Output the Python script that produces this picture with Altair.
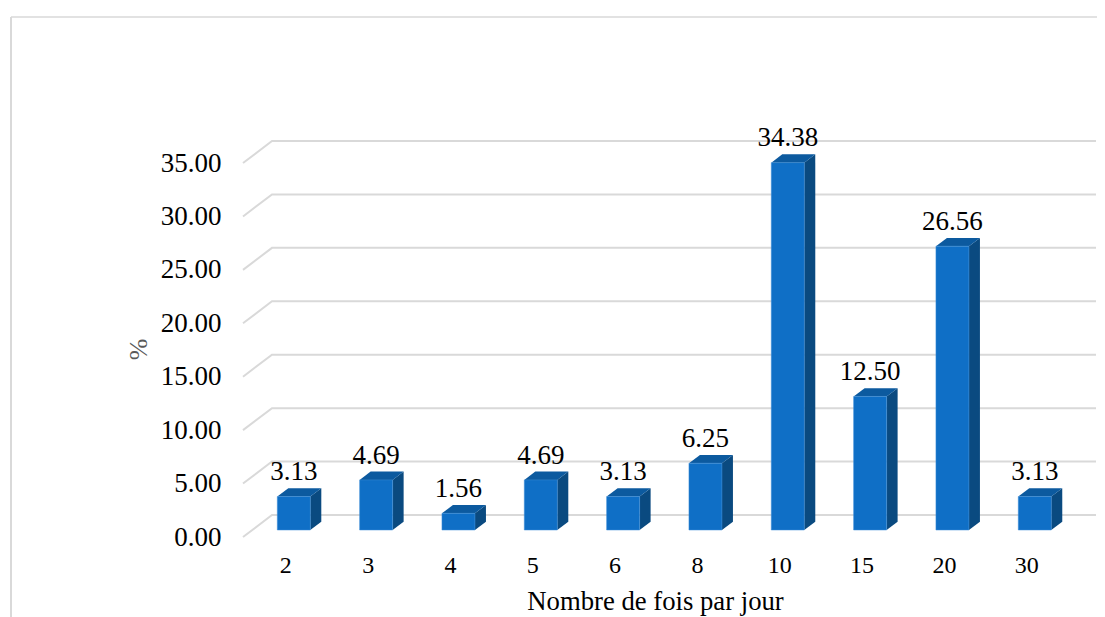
import altair as alt
import pandas as pd

categories = ["2", "3", "4", "5", "6", "8", "10", "15", "20", "30"]
values = [3.13, 4.69, 1.56, 4.69, 3.13, 6.25, 34.38, 12.50, 26.56, 3.13]
y_ticks = [0, 5, 10, 15, 20, 25, 30, 35]

FONT = "Liberation Serif"
GRID = "#d9d9d9"
FRONT = "#0f6fc6"
TOP = "#0c5a9f"
SIDE = "#0a4a80"

# geometry of the pseudo-3D projection, in scale units
PX_X = 82.33          # pixels per category step
PX_Y = 10.686         # pixels per y unit
WIDTH = 853
HEIGHT = 374
X0 = (243 - 293.8) / PX_X
X1 = X0 + WIDTH / PX_X
HALF = 16.5 / PX_X    # half bar width
DX = 11 / PX_X        # bar depth, x
DY = 8.3 / PX_Y       # bar depth, y
BASE = 7 / PX_Y       # bar floor above the axis zero
WALL_X = 29 / PX_X    # wall depth, x
WALL_Y = 22 / PX_Y    # wall depth, y

x_scale = alt.Scale(domain=[X0, X1], nice=False, zero=False)
y_scale = alt.Scale(domain=[0, 35], nice=False, zero=False)
x_axis = alt.Axis(values=list(range(len(categories))),
                  labelExpr="[" + ",".join(f"'{c}'" for c in categories) + "][datum.value]",
                  title="Nombre de fois par jour", titleFont=FONT, titleFontSize=26.7,
                  titleFontWeight="normal", titleColor="#000000",
                  titleX=412, titleY=64, titleAnchor="middle", titleBaseline="middle", titleAlign="center",
                  labelFont=FONT, labelFontSize=24, labelColor="#000000",
                  labelPadding=16, labelOffset=-8.5, labelAngle=0,
                  domain=False, ticks=False, grid=False, labelOverlap=False, labelFlush=False)
y_axis = alt.Axis(values=y_ticks, format=".2f",
                  title="%", titleFont=FONT, titleFontSize=26, titleFontWeight="normal",
                  titleColor="#595959", titleX=-105, titleY=186, titleAngle=270,
                  titleAnchor="middle", titleBaseline="middle", titleAlign="center",
                  labelFont=FONT, labelFontSize=27, labelColor="#000000",
                  labelPadding=22, domain=False, ticks=False, grid=False, labelOverlap=False)
X = alt.X("x:Q", scale=x_scale, axis=x_axis)
Y = alt.Y("y:Q", scale=y_scale, axis=y_axis)

# gridlines: diagonal floor part + horizontal wall part
grid_rows = []
for t in y_ticks:
    grid_rows += [
        dict(g=t, x=X0, y=t),
        dict(g=t, x=X0 + WALL_X, y=t + WALL_Y),
        dict(g=t, x=X1, y=t + WALL_Y),
    ]
grid = alt.Chart(pd.DataFrame(grid_rows)).mark_line(color=GRID, strokeWidth=2, clip=False).encode(
    x=X, y=Y, detail="g:N")

rows = pd.DataFrame({"i": range(len(values)), "v": values, "c": categories})

front = alt.Chart(pd.DataFrame({
    "x": rows.i - HALF, "x2": rows.i + HALF, "y": rows.v + BASE, "y2": BASE,
})).mark_bar(color=FRONT, stroke="#3f8fd8", strokeWidth=0.5, clip=False).encode(
    x=X, x2="x2:Q", y=Y, y2="y2:Q")

side_rows, top_rows = [], []
for i, v in zip(rows.i, rows.v):
    t = v + BASE
    r = i + HALF
    l = i - HALF
    side_rows += [dict(i=i, x=r, y=t, y2=BASE), dict(i=i, x=r + DX, y=t + DY, y2=BASE + DY)]
    top_rows += [
        dict(i=i, x=l, y=t, y2=t),
        dict(i=i, x=l + DX, y=t + DY, y2=t),
        dict(i=i, x=r, y=t + DY, y2=t),
        dict(i=i, x=r + DX, y=t + DY, y2=t + DY),
    ]
side = alt.Chart(pd.DataFrame(side_rows)).mark_area(color=SIDE, clip=False).encode(
    x=X, y=Y, y2="y2:Q", detail="i:N")
top = alt.Chart(pd.DataFrame(top_rows)).mark_area(color=TOP, clip=False).encode(
    x=X, y=Y, y2="y2:Q", detail="i:N")

labels = alt.Chart(pd.DataFrame({
    "x": rows.i, "y": rows.v + BASE + DY, "t": [f"{v:.2f}" for v in values],
})).mark_text(font=FONT, fontSize=27, color="#000000", baseline="alphabetic", dy=-8).encode(
    x=X, y=Y, text="t:N")

# outer frame of the picture
frame_left = alt.Chart(pd.DataFrame({"a": [0]})).mark_rule(color=GRID, strokeWidth=2, clip=False).encode(
    x=alt.value(-232), y=alt.value(-146), y2=alt.value(460))
frame_top = alt.Chart(pd.DataFrame({"a": [0]})).mark_rule(color=GRID, strokeWidth=1.5, clip=False).encode(
    x=alt.value(-232), x2=alt.value(860), y=alt.value(-146))

chart = alt.layer(frame_left, frame_top, grid, side, top, front, labels).properties(
    width=WIDTH, height=HEIGHT,
    autosize="none",
    background="#ffffff",
    padding={"left": 235, "top": 155, "right": 1, "bottom": 85},
).configure_view(stroke=None)

chart.save("out.html", embed_options={"renderer": "svg", "actions": False})
